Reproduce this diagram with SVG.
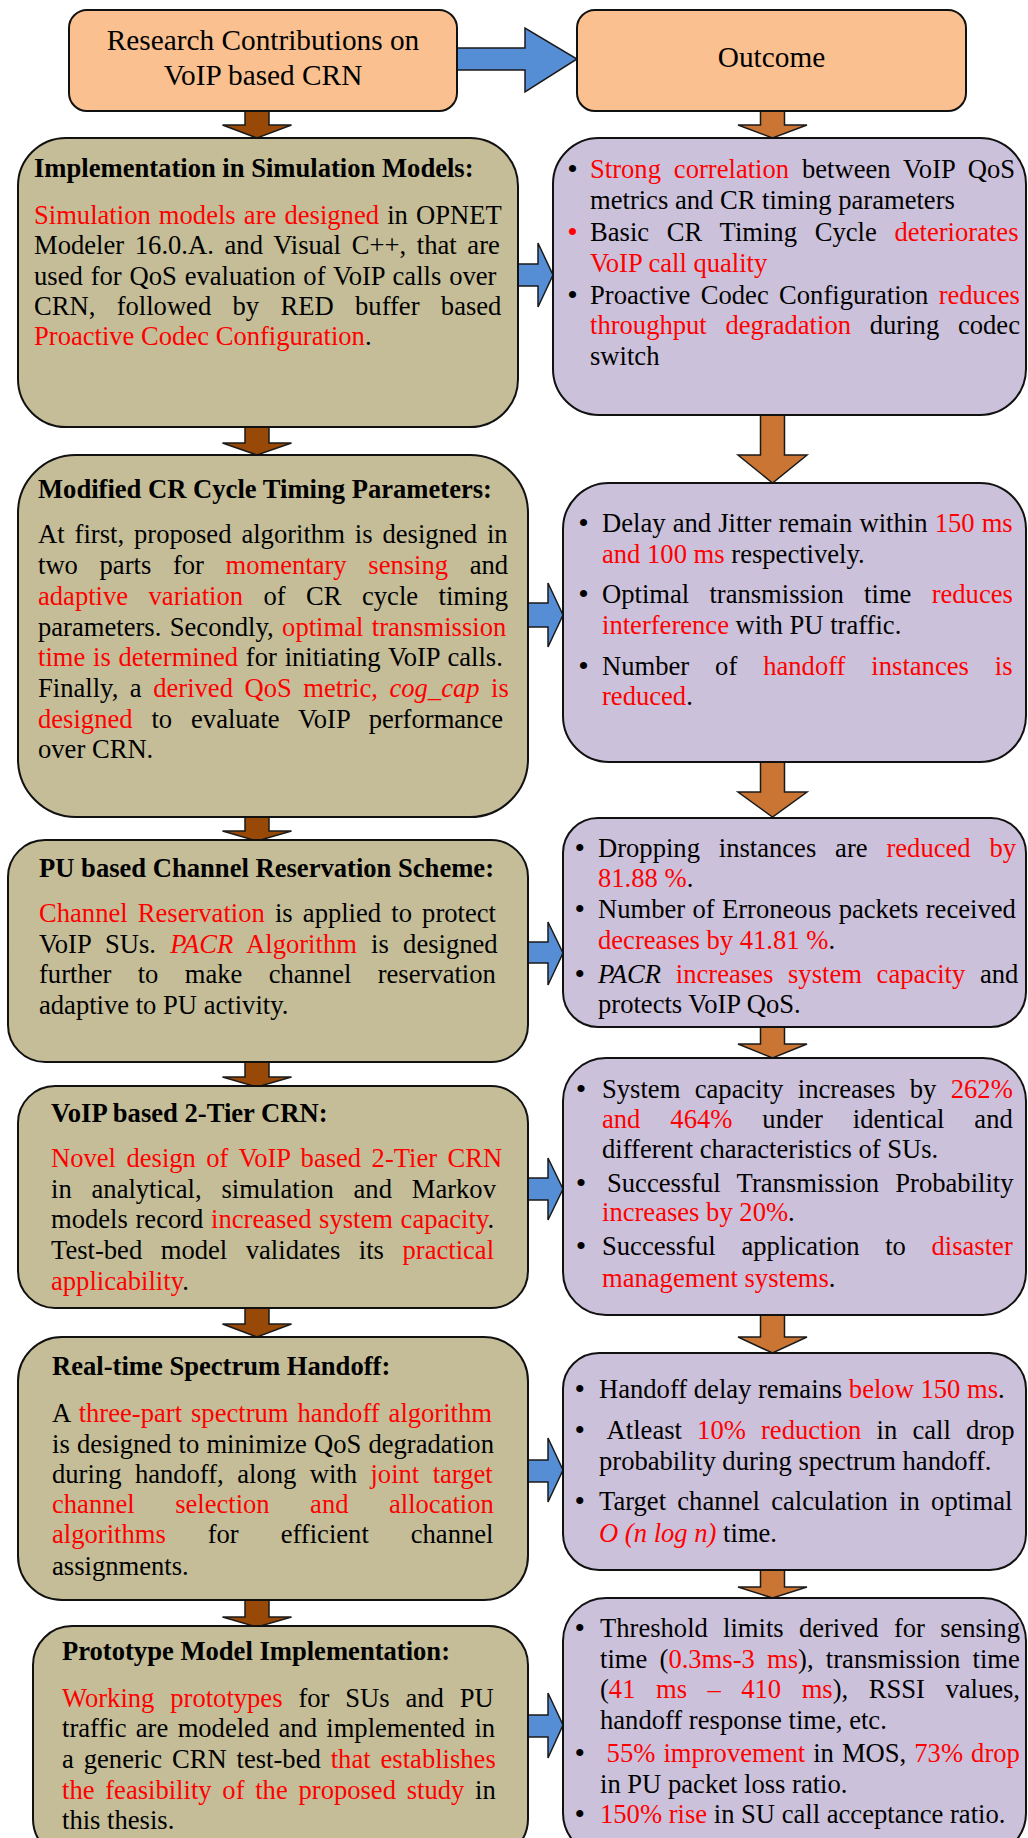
<svg xmlns="http://www.w3.org/2000/svg" width="1028" height="1838" viewBox="0 0 1028 1838">
  <style>
    .t { font-family: "Liberation Serif", "Times New Roman", serif; font-size: 26.6px; fill: #000; }
    .title { font-size: 29.3px; text-anchor: middle; }
    .b { font-weight: bold; }
    .r { fill: #FF0000; }
    .i { font-style: italic; }
    .bul { text-anchor: middle; font-size: 30px; }
    .peach { fill: #FAC090; stroke: #111; stroke-width: 2; }
    .tan { fill: #C4BD97; stroke: #111; stroke-width: 2; }
    .lilac { fill: #CCC1DA; stroke: #111; stroke-width: 2; }
    .brown { fill: #984807; stroke: #1a1a1a; stroke-width: 1.5; }
    .orange { fill: #CB7535; stroke: #1a1a1a; stroke-width: 1.5; }
    .blue { fill: #558ED5; stroke: #1a1a1a; stroke-width: 1.5; }
  </style>

  <rect width="1028" height="1838" fill="#FFFFFF"/>

  <!-- Connectors -->
  <g id="connectors">
    <!-- header arrow -->
    <path class="blue" d="M457,48 H525 V28 L577,59 L525,92 V70 H457 Z"/>
    <!-- left column, downward -->
    <path class="brown" d="M245,111 H269 V125 H291.5 L257,138 L222.5,125 H245 Z"/>
    <path class="brown" d="M245,427 H269 V443 H291.5 L257,455 L222.5,443 H245 Z"/>
    <path class="brown" d="M245,817 H269 V831 H291.5 L257,841 L222.5,831 H245 Z"/>
    <path class="brown" d="M245,1062 H269 V1077 H291.5 L257,1087 L222.5,1077 H245 Z"/>
    <path class="brown" d="M245,1308 H269 V1324 H291.5 L257,1337 L222.5,1324 H245 Z"/>
    <path class="brown" d="M245,1600 H269 V1617 H291.5 L257,1627 L222.5,1617 H245 Z"/>
    <!-- right column, downward -->
    <path class="orange" d="M760.5,111 H784.5 V125 H807 L772.5,138 L738,125 H760.5 Z"/>
    <path class="orange" d="M760.5,415 H784.5 V455 H807 L772.5,483 L738,455 H760.5 Z"/>
    <path class="orange" d="M760.5,762 H784.5 V792 H807 L772.5,817 L738,792 H760.5 Z"/>
    <path class="orange" d="M760.5,1027 H784.5 V1044 H807 L772.5,1058 L738,1044 H760.5 Z"/>
    <path class="orange" d="M760.5,1315 H784.5 V1337 H807 L772.5,1353 L738,1337 H760.5 Z"/>
    <path class="orange" d="M760.5,1570 H784.5 V1587 H807 L772.5,1598 L738,1587 H760.5 Z"/>
    <!-- contribution to outcome -->
    <path class="blue" d="M518,264 H538 V243 L553,275 L538,307 V286 H518 Z"/>
    <path class="blue" d="M528,603 H548 V583 L563,615 L548,647 V627 H528 Z"/>
    <path class="blue" d="M528,942 H548 V922 L563,953 L548,985 V963 H528 Z"/>
    <path class="blue" d="M528,1178 H548 V1158 L563,1189 L548,1220 V1200 H528 Z"/>
    <path class="blue" d="M528,1460 H548 V1438 L563,1470 L548,1502 V1482 H528 Z"/>
    <path class="blue" d="M528,1715 H548 V1693 L563,1725 L548,1758 V1737 H528 Z"/>
  </g>

  <!-- Header boxes -->
  <g id="research-contributions">
    <rect class="peach" x="69" y="10" width="388" height="101" rx="18"/>
    <text class="t title" x="263" y="50">Research Contributions on</text>
    <text class="t title" x="263" y="85">VoIP based CRN</text>
  </g>
  <g id="outcome">
    <rect class="peach" x="577" y="10" width="389" height="101" rx="18"/>
    <text class="t title" x="771.5" y="67">Outcome</text>
  </g>

  <!-- Contribution 1 -->
  <g id="simulation-models">
    <rect class="tan" x="18" y="138" width="500" height="289" rx="48"/>
    <text class="t b" x="34" y="177">Implementation in Simulation Models:</text>
    <text class="t" x="34" y="224" word-spacing="1.5"><tspan class="r">Simulation models are designed</tspan> in OPNET</text>
    <text class="t" x="34" y="254" word-spacing="4.05">Modeler 16.0.A. and Visual C++, that are</text>
    <text class="t" x="34" y="285" word-spacing="1.24">used for QoS evaluation of VoIP calls over</text>
    <text class="t" x="34" y="315" word-spacing="14.7">CRN, followed by RED buffer based</text>
    <text class="t" x="34" y="345"><tspan class="r">Proactive Codec Configuration</tspan>.</text>
  </g>
  <g id="outcome-1">
    <rect class="lilac" x="553" y="138" width="473" height="277" rx="46"/>
    <text class="t bul" x="572.5" y="179">•</text>
    <text class="t bul r" x="572.5" y="242">•</text>
    <text class="t bul" x="572.5" y="305">•</text>
    <text class="t" x="590" y="178" word-spacing="6.3"><tspan class="r">Strong correlation</tspan> between VoIP QoS</text>
    <text class="t" x="590" y="209">metrics and CR timing parameters</text>
    <text class="t" x="590" y="241" word-spacing="11.1">Basic CR Timing Cycle <tspan class="r">deteriorates</tspan></text>
    <text class="t r" x="590" y="272">VoIP call quality</text>
    <text class="t" x="590" y="304" word-spacing="3.7">Proactive Codec Configuration <tspan class="r">reduces</tspan></text>
    <text class="t" x="590" y="334" word-spacing="12.1"><tspan class="r">throughput degradation</tspan> during codec</text>
    <text class="t" x="590" y="365">switch</text>
  </g>

  <!-- Contribution 2 -->
  <g id="cr-cycle-timing">
    <rect class="tan" x="18" y="455" width="510" height="362" rx="58"/>
    <text class="t b" x="38" y="498">Modified CR Cycle Timing Parameters:</text>
    <text class="t" x="38" y="543" word-spacing="3.3">At first, proposed algorithm is designed in</text>
    <text class="t" x="38" y="574" word-spacing="15">two parts for <tspan class="r">momentary sensing</tspan> and</text>
    <text class="t" x="38" y="605" word-spacing="13.8"><tspan class="r">adaptive variation</tspan> of CR cycle timing</text>
    <text class="t" x="38" y="636" word-spacing="1.8">parameters. Secondly, <tspan class="r">optimal transmission</tspan></text>
    <text class="t" x="38" y="666" word-spacing="1.1"><tspan class="r">time is determined</tspan> for initiating VoIP calls.</text>
    <text class="t" x="38" y="697" word-spacing="4.9">Finally, a <tspan class="r">derived QoS metric, <tspan class="i">cog_cap</tspan> is</tspan></text>
    <text class="t" x="38" y="728" word-spacing="12.25"><tspan class="r">designed</tspan> to evaluate VoIP performance</text>
    <text class="t" x="38" y="758">over CRN.</text>
  </g>
  <g id="outcome-2">
    <rect class="lilac" x="563" y="483" width="463" height="279" rx="46"/>
    <text class="t bul" x="583.6" y="533">•</text>
    <text class="t bul" x="583.6" y="604">•</text>
    <text class="t bul" x="583.6" y="676">•</text>
    <text class="t" x="602" y="532" word-spacing="0.5">Delay and Jitter remain within <tspan class="r">150 ms</tspan></text>
    <text class="t" x="602" y="563"><tspan class="r">and 100 ms</tspan> respectively.</text>
    <text class="t" x="602" y="603" word-spacing="13.6">Optimal transmission time <tspan class="r">reduces</tspan></text>
    <text class="t" x="602" y="634"><tspan class="r">interference</tspan> with PU traffic.</text>
    <text class="t" x="602" y="675" word-spacing="19.3">Number of <tspan class="r">handoff instances is</tspan></text>
    <text class="t" x="602" y="705"><tspan class="r">reduced</tspan>.</text>
  </g>

  <!-- Contribution 3 -->
  <g id="channel-reservation">
    <rect class="tan" x="8" y="840" width="520" height="222" rx="37"/>
    <text class="t b" x="39" y="877">PU based Channel Reservation Scheme:</text>
    <text class="t" x="39" y="922" word-spacing="3.5"><tspan class="r">Channel Reservation</tspan> is applied to protect</text>
    <text class="t" x="39" y="953" word-spacing="7.6">VoIP SUs. <tspan class="r"><tspan class="i">PACR</tspan> Algorithm</tspan> is designed</text>
    <text class="t" x="39" y="983" word-spacing="19.7">further to make channel reservation</text>
    <text class="t" x="39" y="1014">adaptive to PU activity.</text>
  </g>
  <g id="outcome-3">
    <rect class="lilac" x="563" y="818" width="463" height="209" rx="35"/>
    <text class="t bul" x="579.7" y="858">•</text>
    <text class="t bul" x="579.7" y="919">•</text>
    <text class="t bul" x="579.7" y="984">•</text>
    <text class="t" x="598" y="857" word-spacing="12.2">Dropping instances are <tspan class="r">reduced by</tspan></text>
    <text class="t" x="598" y="887"><tspan class="r">81.88 %</tspan>.</text>
    <text class="t" x="598" y="918" word-spacing="0.7">Number of Erroneous packets received</text>
    <text class="t" x="598" y="949"><tspan class="r">decreases by 41.81 %</tspan>.</text>
    <text class="t" x="598" y="983" word-spacing="8.1"><tspan class="i">PACR</tspan> <tspan class="r">increases system capacity</tspan> and</text>
    <text class="t" x="598" y="1013">protects VoIP QoS.</text>
  </g>

  <!-- Contribution 4 -->
  <g id="two-tier-crn">
    <rect class="tan" x="18" y="1086" width="510" height="222" rx="37"/>
    <text class="t b" x="51" y="1122">VoIP based 2-Tier CRN:</text>
    <text class="t r" x="51" y="1167" word-spacing="3.8">Novel design of VoIP based 2-Tier CRN</text>
    <text class="t" x="51" y="1198" word-spacing="13.2">in analytical, simulation and Markov</text>
    <text class="t" x="51" y="1228" word-spacing="1">models record <tspan class="r">increased system capacity</tspan>.</text>
    <text class="t" x="51" y="1259" word-spacing="11.9">Test-bed model validates its <tspan class="r">practical</tspan></text>
    <text class="t" x="51" y="1290"><tspan class="r">applicability</tspan>.</text>
  </g>
  <g id="outcome-4">
    <rect class="lilac" x="563" y="1058" width="463" height="257" rx="43"/>
    <text class="t bul" x="581" y="1099">•</text>
    <text class="t bul" x="581" y="1193">•</text>
    <text class="t bul" x="581" y="1256">•</text>
    <text class="t" x="602" y="1098" word-spacing="7.8">System capacity increases by <tspan class="r">262%</tspan></text>
    <text class="t" x="602" y="1128" word-spacing="23.3"><tspan class="r">and 464%</tspan> under identical and</text>
    <text class="t" x="602" y="1158">different characteristics of SUs.</text>
    <text class="t" x="607" y="1192" word-spacing="9.7">Successful Transmission Probability</text>
    <text class="t" x="602" y="1221"><tspan class="r">increases by 20%</tspan>.</text>
    <text class="t" x="602" y="1255" word-spacing="19">Successful application to <tspan class="r">disaster</tspan></text>
    <text class="t" x="602" y="1287"><tspan class="r">management systems</tspan>.</text>
  </g>

  <!-- Contribution 5 -->
  <g id="spectrum-handoff">
    <rect class="tan" x="18" y="1337" width="510" height="263" rx="44"/>
    <text class="t b" x="52" y="1375">Real-time Spectrum Handoff:</text>
    <text class="t" x="52" y="1422" word-spacing="2.3">A <tspan class="r">three-part spectrum handoff algorithm</tspan></text>
    <text class="t" x="52" y="1453" word-spacing="0.5">is designed to minimize QoS degradation</text>
    <text class="t" x="52" y="1483" word-spacing="6.8">during handoff, along with <tspan class="r">joint target</tspan></text>
    <text class="t r" x="52" y="1513" word-spacing="33.8">channel selection and allocation</text>
    <text class="t" x="52" y="1543" word-spacing="35.3"><tspan class="r">algorithms</tspan> for efficient channel</text>
    <text class="t" x="52" y="1575">assignments.</text>
  </g>
  <g id="outcome-5">
    <rect class="lilac" x="563" y="1353" width="463" height="217" rx="36"/>
    <text class="t bul" x="579.7" y="1399">•</text>
    <text class="t bul" x="579.7" y="1440">•</text>
    <text class="t bul" x="579.7" y="1511">•</text>
    <text class="t" x="599" y="1398">Handoff delay remains <tspan class="r">below 150 ms</tspan>.</text>
    <text class="t" x="606.6" y="1439" word-spacing="8.5">Atleast <tspan class="r">10% reduction</tspan> in call drop</text>
    <text class="t" x="599" y="1470">probability during spectrum handoff.</text>
    <text class="t" x="599" y="1510" word-spacing="4.6">Target channel calculation in optimal</text>
    <text class="t" x="599" y="1542"><tspan class="r i">O (n log n)</tspan> time.</text>
  </g>

  <!-- Contribution 6 -->
  <g id="prototype-model">
    <rect class="tan" x="33" y="1626" width="495" height="232" rx="39"/>
    <text class="t b" x="62" y="1660">Prototype Model Implementation:</text>
    <text class="t" x="62" y="1707" word-spacing="9.2"><tspan class="r">Working prototypes</tspan> for SUs and PU</text>
    <text class="t" x="62" y="1737" word-spacing="2.7">traffic are modeled and implemented in</text>
    <text class="t" x="62" y="1768" word-spacing="3.3">a generic CRN test-bed <tspan class="r">that establishes</tspan></text>
    <text class="t" x="62" y="1799" word-spacing="4.1"><tspan class="r">the feasibility of the proposed study</tspan> in</text>
    <text class="t" x="62" y="1829">this thesis.</text>
  </g>
  <g id="outcome-6">
    <rect class="lilac" x="563" y="1598" width="463" height="258" rx="43"/>
    <text class="t bul" x="579.7" y="1638">•</text>
    <text class="t bul" x="579.7" y="1763">•</text>
    <text class="t bul" x="579.7" y="1824">•</text>
    <text class="t" x="600" y="1637" word-spacing="8.6">Threshold limits derived for sensing</text>
    <text class="t" x="600" y="1668" word-spacing="5.6">time (<tspan class="r">0.3ms-3 ms</tspan>), transmission time</text>
    <text class="t" x="600" y="1698" word-spacing="13.85">(<tspan class="r">41 ms – 410 ms</tspan>), RSSI values,</text>
    <text class="t" x="600" y="1729">handoff response time, etc.</text>
    <text class="t" x="606.6" y="1762" word-spacing="1.4"><tspan class="r">55% improvement</tspan> in MOS, <tspan class="r">73% drop</tspan></text>
    <text class="t" x="600" y="1793">in PU packet loss ratio.</text>
    <text class="t" x="600" y="1823"><tspan class="r">150% rise</tspan> in SU call acceptance ratio.</text>
  </g>
</svg>
